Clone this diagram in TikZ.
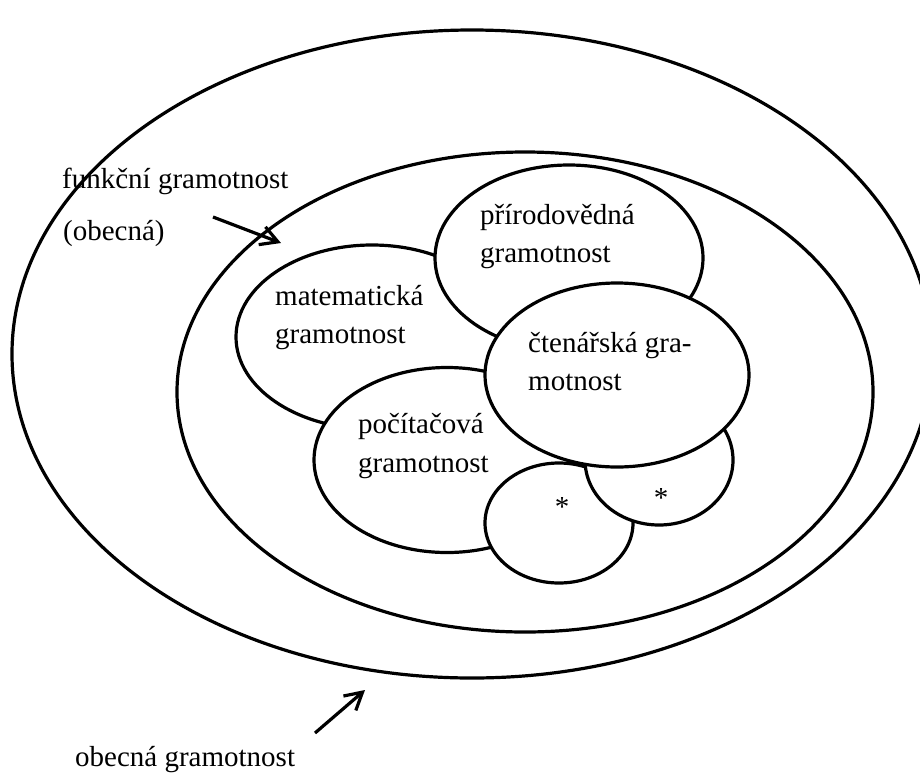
\documentclass[tikz,border=0pt]{standalone}
\usepackage{fontspec}
\setmainfont{Liberation Serif}
\usetikzlibrary{shapes.geometric,arrows.meta}
\begin{document}
\begin{tikzpicture}[x=1pt,y=-1pt,
  ring/.style={ellipse, draw, line width=3.2pt, fill=white, inner sep=0pt},
  lbl/.style={anchor=base west, inner sep=0pt, font=\fontsize{29}{35}\selectfont},
  star/.style={anchor=base, inner sep=0pt, font=\fontsize{29}{35}\selectfont},
  pointer/.style={line width=3.2pt, -{Straight Barb[length=17pt,width=19pt]}}]
\useasboundingbox (0,0) rectangle (920,774);
\clip (0,0) rectangle (920,774);
\node[ring, minimum width=920pt, minimum height=648pt] (outer) at (472,354) {};
\node[ring, minimum width=696pt, minimum height=480pt] (func) at (525,392) {};
\node[ring, minimum width=272pt, minimum height=184pt] (mat) at (372,337) {};
\node[ring, minimum width=268pt, minimum height=186pt] (prir) at (569,258) {};
\node[ring, minimum width=266pt, minimum height=185pt] (poc) at (447,460) {};
\node[ring, minimum width=148pt, minimum height=120pt] (s1) at (559,523) {};
\node[ring, minimum width=148pt, minimum height=130pt] (s2) at (659,460) {};
\node[ring, minimum width=264pt, minimum height=184pt] (cten) at (617,375) {};
% labels
\node[lbl] (funk1) at (62,188) {funkční gramotnost};
\node[lbl] (funk2) at (63,240) {(obecná)};
\node[lbl] (obec) at (75,766) {obecná gramotnost};
\node[lbl] (prir1) at (480,224) {přírodovědná};
\node[lbl] (prir2) at (480,262) {gramotnost};
\node[lbl] (mat1) at (275,305) {matematická};
\node[lbl] (mat2) at (275,343) {gramotnost};
\node[lbl] (cten1) at (528,352) {čtenářská gra-};
\node[lbl] (cten2) at (528,390) {motnost};
\node[lbl] (poc1) at (358,433) {počítačová};
\node[lbl] (poc2) at (358,472) {gramotnost};
\node[star] (st1) at (562,516) {*};
\node[star] (st2) at (661,507) {*};
% arrows
\coordinate (a1s) at (213,217);
\coordinate (a1e) at (281,243);
\coordinate (a2s) at (315,733);
\coordinate (a2e) at (365,690);
\draw[pointer] (a1s) -- (a1e);
\draw[pointer] (a2s) -- (a2e);
\end{tikzpicture}
\end{document}
